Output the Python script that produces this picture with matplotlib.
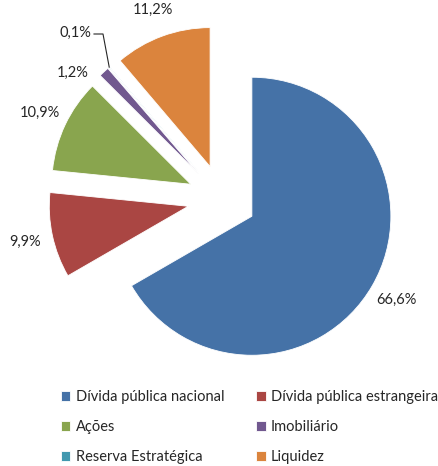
import matplotlib
matplotlib.use("Agg")
import matplotlib.pyplot as plt
import numpy as np

plt.rcParams["font.family"] = ["Lato", "DejaVu Sans"]

categorias = ["Dívida pública nacional", "Dívida pública estrangeira", "Ações",
              "Imobiliário", "Reserva Estratégica", "Liquidez"]
percentagens = [66.6, 9.9, 10.9, 1.2, 0.1, 11.2]
cores = ["#4572A7", "#AA4643", "#89A54E", "#71588F", "#4198AF", "#DB843D"]

W, H = 438, 466
TXT = "#262626"

fig = plt.figure(figsize=(W / 100, H / 100), dpi=100)
ax = fig.add_axes([0, 0, 1, 1])

raio = 139
centro = (222, H - 199)
wedges, _, pcts = ax.pie(
    percentagens, colors=cores, startangle=90, counterclock=False,
    radius=raio, center=centro, explode=[34.5] * len(percentagens),
    autopct=lambda p: "", pctdistance=1.2, normalize=True,
    wedgeprops=dict(linewidth=0.6, edgecolor="white"),
)

# percentage labels next to each slice
for w, t, v in zip(wedges, pcts, percentagens):
    t.set_text(f"{v:.1f}".replace(".", ",") + "%")
    t.set_fontsize(10.5)
    t.set_color(TXT)

# small slices: labels pulled aside, 0,1% with a leader line
pcts[3].set_position((73, H - 73))
pcts[4].set_position((75, H - 33))
w = wedges[4]
th = np.deg2rad((w.theta1 + w.theta2) / 2)
ponta = (w.center[0] + raio * np.cos(th), w.center[1] + raio * np.sin(th))
ax.plot([94, 103, ponta[0]], [H - 34, H - 34, ponta[1]], color=TXT, lw=0.8)

ax.set_xlim(0, W)
ax.set_ylim(0, H)
ax.set_aspect("equal")
ax.axis("off")

ordem = [0, 2, 4, 1, 3, 5]
ax.legend([wedges[i] for i in ordem], [categorias[i] for i in ordem],
          ncol=2, frameon=False, fontsize=10.5, loc="upper left",
          bbox_to_anchor=(61 / W, 1 - 390 / H), bbox_transform=fig.transFigure,
          borderpad=0, borderaxespad=0, handlelength=0.65, handleheight=0.65,
          handletextpad=0.35, labelspacing=1.1, columnspacing=2.2,
          labelcolor=TXT)

fig.savefig("out.png", dpi=100)
